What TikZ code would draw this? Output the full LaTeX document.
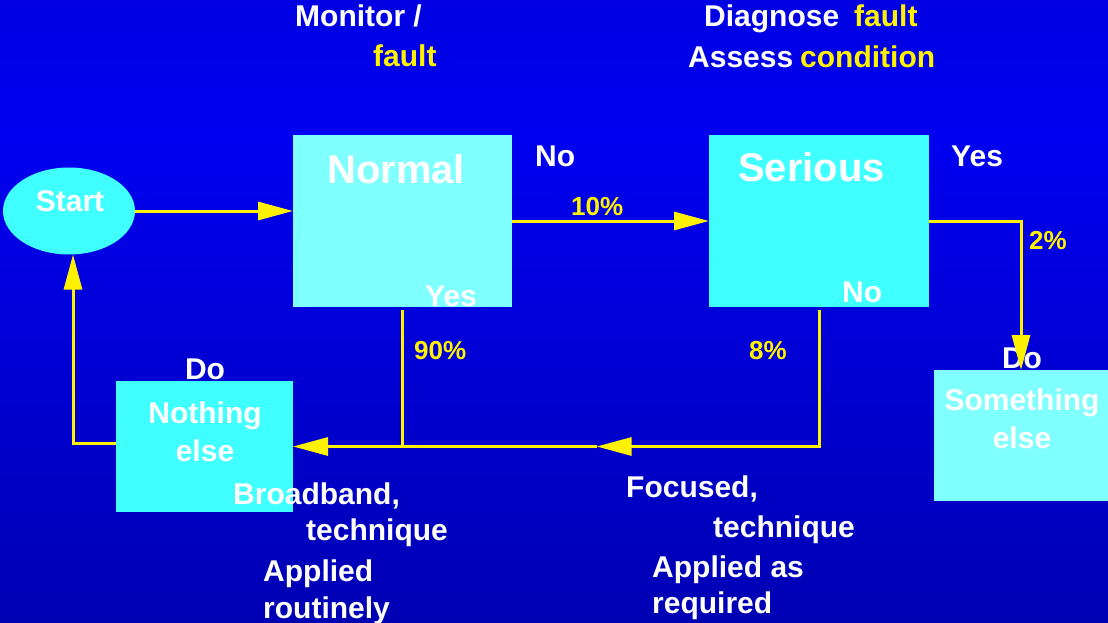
\documentclass[tikz,border=0pt]{standalone}
\usepackage{fontspec}
\setmainfont{Liberation Sans}
\usepackage{tikz}
\usetikzlibrary{shapes,arrows.meta,positioning,calc}

\definecolor{bgtop}{RGB}{0,0,196}
\definecolor{bgmid}{RGB}{0,0,240}
\definecolor{bgbot}{RGB}{0,0,140}
\definecolor{cyanlight}{RGB}{128,255,255}
\definecolor{cyanfull}{RGB}{64,255,255}
\pgfdeclareverticalshading{bluebg}{100bp}{color(0bp)=(bgbot); color(64bp)=(bgmid); color(100bp)=(bgtop)}

\begin{document}
\begin{tikzpicture}[x=1pt,y=-1pt]
\tikzstyle{box}=[draw=none,inner sep=0pt,outer sep=0pt]
\tikzstyle{lbl}=[text=white,inner sep=0pt,font=\bfseries\fontsize{30}{36}\selectfont]
\tikzstyle{hl}=[lbl,text=yellow]
\tikzstyle{pct}=[text=yellow,inner sep=0pt,font=\bfseries\fontsize{26}{30}\selectfont]
\tikzstyle{title}=[text=white,inner sep=0pt,font=\bfseries\fontsize{40}{46}\selectfont]
\tikzstyle{flow}=[draw=yellow,line width=3pt]
\tikzstyle{tip}=[-{Triangle[length=35pt,width=18pt]}]

% background
\useasboundingbox (0,0) rectangle (1108,623);
\path [shading=bluebg] (0,0) rectangle (1108,623);

% boxes
\node (start) [box,ellipse,fill=cyanfull,minimum width=132pt,minimum height=87pt] at (69,211) {};
\node (normal) [box,fill=cyanlight,minimum width=219pt,minimum height=172pt] at (402.5,221) {};
\node (serious) [box,fill=cyanfull,minimum width=220pt,minimum height=172pt] at (819,221) {};
\node (nothing) [box,fill=cyanfull,minimum width=177pt,minimum height=131pt] at (204.5,446.5) {};
\node (something) [box,fill=cyanlight,minimum width=175pt,minimum height=131pt] at (1021,435.5) {};

% headings
\node (monitor) [lbl,anchor=base west] at (295,27) {Monitor /};
\node (mfault) [hl,anchor=base west] at (373,67) {fault};
\node (diagnose) [lbl,anchor=base west] at (704,27) {Diagnose};
\node (dfault) [hl,anchor=base west] at (854,27) {fault};
\node (assess) [lbl,anchor=base west] at (688,68) {Assess};
\node (condition) [hl,anchor=base west] at (800,68) {condition};

% texts in and round the boxes
\node (startTxt) [lbl,anchor=base] at (70,211) {Start};
\node (normalTxt) [title,anchor=base west] at (327,183) {Normal};
\node (seriousTxt) [title,anchor=base west] at (738,181) {Serious};
\node (normalYes) [lbl,anchor=base west] at (425,306) {Yes};
\node (normalNo) [lbl,anchor=base west] at (535,167) {No};
\node (seriousNo) [lbl,anchor=base west] at (842,302) {No};
\node (seriousYes) [lbl,anchor=base west] at (951,167) {Yes};
\node (doA) [lbl,anchor=base] at (205,379) {Do};
\node (nothingTxt) [lbl,anchor=base] at (205,423) {Nothing};
\node (elseA) [lbl,anchor=base] at (205,461) {else};
\node (doB) [lbl,anchor=base] at (1022,368) {Do};
\node (somethingTxt) [lbl,anchor=base] at (1022,410) {Something};
\node (elseB) [lbl,anchor=base] at (1022,448) {else};

% percentages
\node (p10) [pct,anchor=base west] at (571,215) {10\%};
\node (p90) [pct,anchor=base west] at (414,359) {90\%};
\node (p8) [pct,anchor=base west] at (749,359) {8\%};
\node (p2) [pct,anchor=base west] at (1029,249) {2\%};

% technique notes
\node (broad) [lbl,anchor=base west] at (233,504) {Broadband,};
\node (techA) [lbl,anchor=base west] at (306,540) {technique};
\node (applA) [lbl,anchor=base west] at (263,581) {Applied};
\node (routine) [lbl,anchor=base west] at (263,618) {routinely};
\node (focus) [lbl,anchor=base west] at (626,497) {Focused,};
\node (techB) [lbl,anchor=base west] at (713,537) {technique};
\node (applB) [lbl,anchor=base west] at (652,577) {Applied as};
\node (required) [lbl,anchor=base west] at (652,613) {required};

% connectors
\coordinate (join) at (normal.south |- nothing.east);
\coordinate (mid) at ($(join)!0.466!(serious.south |- join)$);

\draw [flow,tip] (start.east) -- (start.east -| normal.west);
\draw [flow,tip] (normal.east) -- (serious.west);
\draw [flow,tip] (serious.east) -| (something.north);
\draw [flow,tip] ([yshift=-3pt]normal.south) |- (nothing.east);
\draw [flow,tip] ([yshift=-3pt]serious.south) |- (mid);
\draw [flow] (mid) -- (join);
\draw [flow,tip] ([yshift=3pt]nothing.west) -| ([xshift=4pt]start.south);
\end{tikzpicture}
\end{document}
